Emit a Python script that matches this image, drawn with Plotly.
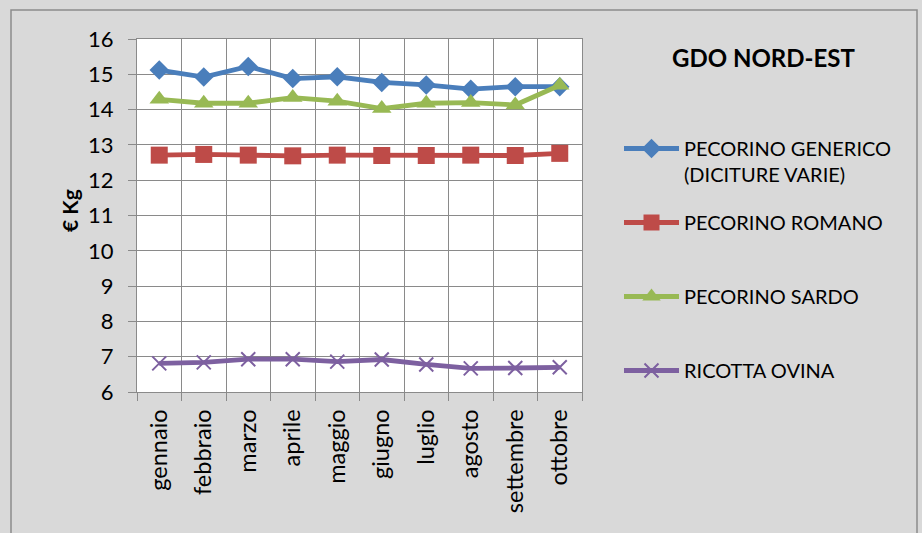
import plotly.graph_objects as go

# Monthly retail prices (€/Kg), GDO Nord-Est
months = ["gennaio", "febbraio", "marzo", "aprile", "maggio",
          "giugno", "luglio", "agosto", "settembre", "ottobre"]

pecorino_generico = [15.12, 14.92, 15.22, 14.88, 14.93, 14.77, 14.70, 14.58, 14.65, 14.65]
pecorino_romano = [12.71, 12.73, 12.71, 12.69, 12.71, 12.70, 12.70, 12.71, 12.70, 12.76]
pecorino_sardo = [14.29, 14.18, 14.18, 14.34, 14.24, 14.03, 14.18, 14.20, 14.13, 14.69]
ricotta_ovina = [6.81, 6.84, 6.93, 6.93, 6.86, 6.92, 6.78, 6.67, 6.68, 6.70]

# every legend entry is given two text lines so the entries are evenly spaced
series = [
    ("PECORINO GENERICO<br>(DICITURE VARIE)", pecorino_generico, "#4a7ebb", "diamond", 15),
    ("PECORINO ROMANO<br> ", pecorino_romano, "#be4b48", "square", 17),
    ("PECORINO SARDO<br> ", pecorino_sardo, "#98b954", "triangle-up", 17),
    ("RICOTTA OVINA<br> ", ricotta_ovina, "#7d60a0", "x-thin", 14),
]

FONT = "Lato, 'Open Sans', sans-serif"
GRID = "#8a8a8a"

W, H = 922, 533
L, R, T, B = 137, 340, 39, 141
pw, ph = W - L - R, H - T - B


def px(x):
    return (x - L) / pw


def py(y):
    return 1 - (y - T) / ph


fig = go.Figure()
for i, (name, vals, color, sym, size) in enumerate(series):
    marker = dict(symbol=sym, size=size, color=color)
    if sym == "x-thin":
        marker["line"] = dict(color=color, width=2)
    fig.add_trace(go.Scatter(
        x=months, y=vals, name=name, mode="lines+markers",
        line=dict(color=color, width=4.8),
        marker=marker,
        legendgroup=f"g{i}",
    ))

fig.update_layout(
    width=W, height=H,
    margin=dict(l=L, r=R, t=T, b=B),
    paper_bgcolor="#d9d9d9",
    plot_bgcolor="white",
    font=dict(family=FONT, size=20, color="black"),
    showlegend=True,
    legend=dict(
        x=px(619), xanchor="left", y=py(129), yanchor="top",
        bgcolor="rgba(0,0,0,0)",
        font=dict(size=20),
        itemwidth=55,
        valign="top",
        tracegroupgap=19,
        itemsizing="trace",
    ),
    annotations=[
        dict(text="<b>GDO NORD-EST</b>", xref="paper", yref="paper",
             x=px(763), y=py(57), xanchor="center", yanchor="middle",
             showarrow=False, font=dict(size=24)),
        dict(text="<b>€ Kg</b>", xref="paper", yref="paper",
             x=px(70), y=py(211), xanchor="center", yanchor="middle",
             textangle=-90, showarrow=False, font=dict(size=21)),
    ],
    shapes=[dict(
        type="rect", xref="paper", yref="paper",
        x0=px(11), x1=px(917), y0=py(560), y1=py(10),
        line=dict(color="#8c8c8c", width=1.5), fillcolor="rgba(0,0,0,0)",
        layer="below",
    )],
)

fig.update_xaxes(
    type="category", tickson="boundaries", range=[-0.5, len(months) - 0.5],
    showgrid=True, gridcolor=GRID, gridwidth=1,
    ticks="outside", ticklen=8, tickcolor=GRID,
    tickangle=-90, showline=True, linecolor=GRID, mirror=True,
    tickfont=dict(size=23.5), ticklabelstandoff=7, automargin=False,
)
fig.update_yaxes(
    range=[6, 16], dtick=1,
    showgrid=True, gridcolor=GRID, gridwidth=1,
    ticks="outside", ticklen=8, tickcolor=GRID,
    showline=True, linecolor=GRID, mirror=True, zeroline=False,
    tickfont=dict(size=22), ticklabelstandoff=10, automargin=False,
)

fig.write_html("out.html")
